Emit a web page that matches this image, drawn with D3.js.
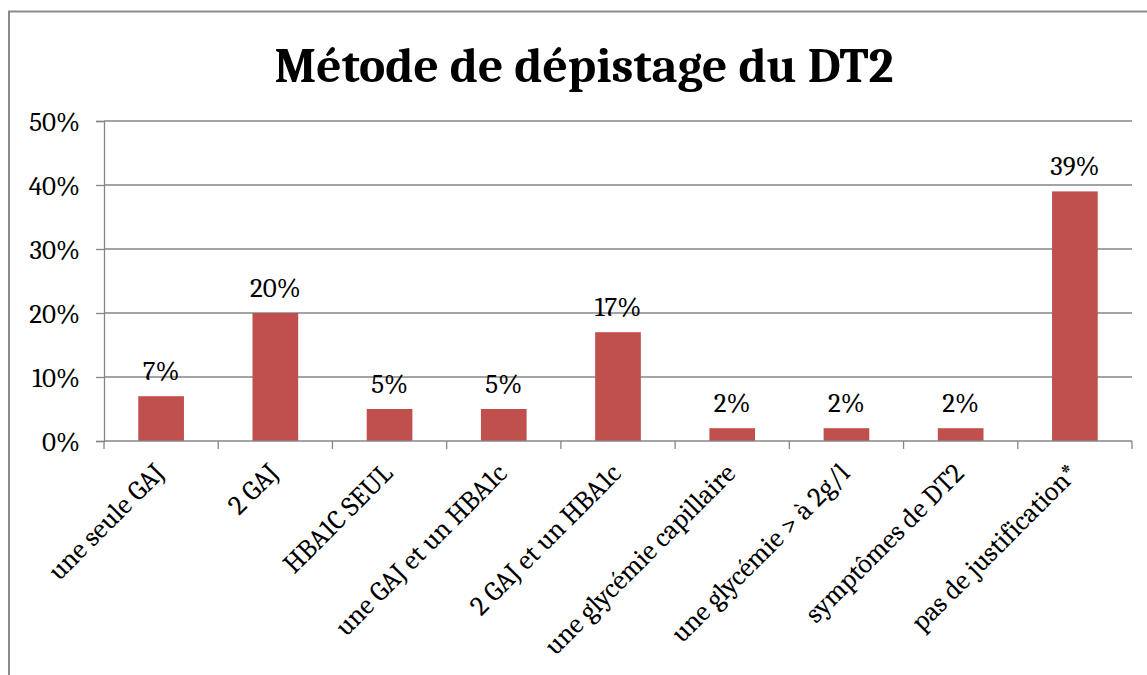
<!DOCTYPE html>
<html lang="fr">
<head>
<meta charset="UTF-8">
<script src="https://d3js.org/d3.v7.min.js"></script>
<style>
  body { margin: 0; background: #fff; }
  text { font-family: Cambria, Caladea, "Liberation Serif", serif; fill: #000; }
</style>
<title>Métode de dépistage du DT2</title>
</head>
<body>
<script>
// chart data
const categories = ['une seule GAJ', '2 GAJ', 'HBA1C SEUL', 'une GAJ et un HBA1c', '2 GAJ et un HBA1c',
    'une glycémie capillaire', 'une glycémie > à 2g/l', 'symptômes de DT2', 'pas de justification*'];
const values = [7, 20, 5, 5, 17, 2, 2, 2, 39];
const yTicks = [0, 10, 20, 30, 40, 50];

const W = 1147, H = 675;
const serif = 'Cambria, Caladea, "Liberation Serif", serif';
const svg = d3.select('body').append('svg')
    .attr('width', W)
    .attr('height', H);

// outer chart border (left + top)
svg.append('path')
    .attr('d', `M9,${H} L9,11.5 L${W},11.5`)
    .attr('fill', 'none')
    .attr('stroke', '#8a8a8a')
    .attr('stroke-width', 2);

const plotLeft = 104, plotRight = 1132, plotTop = 121, plotBottom = 441;

const x = d3.scaleBand()
    .domain(categories)
    .range([plotLeft, plotRight])
    .paddingInner(0.6)
    .paddingOuter(0.3);

const xEdge = d3.scaleLinear()
    .domain([0, categories.length])
    .range([plotLeft, plotRight]);

const y = d3.scaleLinear()
    .domain([0, 50])
    .range([plotBottom, plotTop]);

// gridlines
svg.append('g')
    .selectAll('line')
    .data(yTicks.filter(d => d > 0))
    .enter()
    .append('line')
    .attr('x1', plotLeft)
    .attr('x2', plotRight)
    .attr('y1', d => y(d))
    .attr('y2', d => y(d))
    .attr('stroke', '#868686')
    .attr('stroke-width', 1.3);

// y axis
const yAxis = svg.append('g')
    .attr('transform', `translate(${plotLeft},0)`)
    .call(d3.axisLeft(y).tickValues(yTicks).tickSize(8).tickPadding(16).tickFormat(d => d + '%'));
yAxis.attr('font-family', null).attr('font-size', null);
yAxis.selectAll('line').attr('stroke', '#868686').attr('stroke-width', 1.3);
yAxis.select('.domain').attr('stroke', '#868686').attr('stroke-width', 1.3);
yAxis.selectAll('text')
    .style('font-family', serif)
    .style('font-size', '27px')
    .attr('dy', '0.35em');

// bars
svg.append('g')
    .selectAll('rect')
    .data(values)
    .enter()
    .append('rect')
    .attr('x', (d, i) => x(categories[i]))
    .attr('y', d => y(d))
    .attr('width', x.bandwidth())
    .attr('height', d => plotBottom - y(d))
    .attr('fill', '#c0504d');

// x axis line and ticks at band edges
svg.append('line')
    .attr('x1', plotLeft)
    .attr('x2', plotRight)
    .attr('y1', plotBottom)
    .attr('y2', plotBottom)
    .attr('stroke', '#868686')
    .attr('stroke-width', 1.3);

svg.append('g')
    .selectAll('line')
    .data(d3.range(categories.length + 1))
    .enter()
    .append('line')
    .attr('x1', d => xEdge(d))
    .attr('x2', d => xEdge(d))
    .attr('y1', plotBottom)
    .attr('y2', plotBottom + 8)
    .attr('stroke', '#868686')
    .attr('stroke-width', 1.3);

// data labels
svg.append('g')
    .selectAll('text')
    .data(values)
    .enter()
    .append('text')
    .attr('x', (d, i) => x(categories[i]) + x.bandwidth() / 2)
    .attr('y', d => y(d) - 16)
    .attr('text-anchor', 'middle')
    .style('font-size', '27px')
    .text(d => d + '%');

// category labels, rotated
svg.append('g')
    .selectAll('text')
    .data(categories)
    .enter()
    .append('text')
    .attr('transform', d => `translate(${x(d) + x.bandwidth() / 2 - 2},${plotBottom + 27}) rotate(-45)`)
    .attr('text-anchor', 'end')
    .attr('dy', '0.35em')
    .style('font-size', '27.5px')
    .text(d => d);

// title
svg.append('text')
    .attr('x', 584)
    .attr('y', 82)
    .attr('text-anchor', 'middle')
    .style('font-size', '49.5px')
    .attr('font-weight', 'bold')
    .text('Métode de dépistage du DT2');
</script>
</body>
</html>
